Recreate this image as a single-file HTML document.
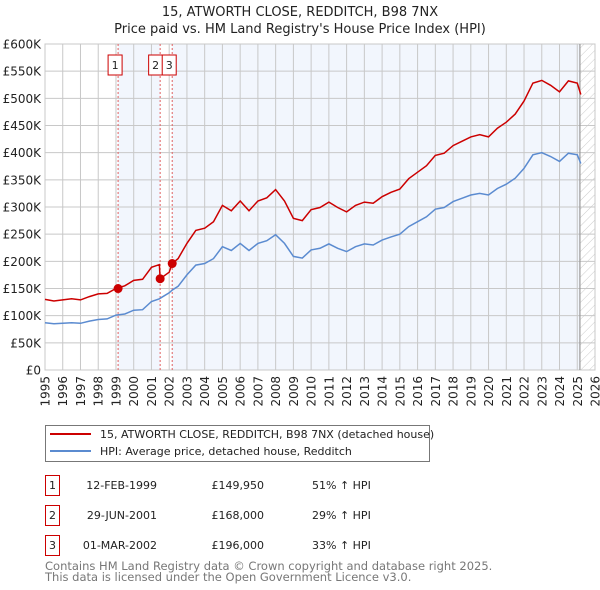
<!DOCTYPE html>
<html><head><meta charset="utf-8"><style>
body{margin:0;background:#fff}
svg{display:block;font-family:"DejaVu Sans","Liberation Sans",sans-serif}
</style></head><body>
<svg id="chart" width="600" height="590" viewBox="0 0 600 590">
<text x="300" y="16" text-anchor="middle" font-size="13" fill="#222">15, ATWORTH CLOSE, REDDITCH, B98 7NX</text>
<text x="300" y="33" text-anchor="middle" font-size="13" fill="#222">Price paid vs. HM Land Registry's House Price Index (HPI)</text>
<g id="plot"></g>
<g>
<rect x="45.5" y="425.5" width="384" height="36" fill="#fff" stroke="#777"/>
<line x1="50" y1="434" x2="91" y2="434" stroke="#cc0000" stroke-width="2"/>
<text x="100" y="438" font-size="11" fill="#222">15, ATWORTH CLOSE, REDDITCH, B98 7NX (detached house)</text>
<line x1="50" y1="451" x2="91" y2="451" stroke="#5b8bd0" stroke-width="2"/>
<text x="100" y="455" font-size="11" fill="#222">HPI: Average price, detached house, Redditch</text>
</g>
<g id="table" font-size="11" fill="#222"></g>
<text x="45" y="570" font-size="11.5" fill="#777">Contains HM Land Registry data © Crown copyright and database right 2025.</text>
<text x="45" y="581" font-size="11.5" fill="#777">This data is licensed under the Open Government Licence v3.0.</text>
</svg>
<script>
const years=[1995,1995.5,1996,1996.5,1997,1997.5,1998,1998.5,1999,1999.5,2000,2000.5,2001,2001.45,2001.49,2002,2002.17,2002.5,2003,2003.5,2004,2004.5,2005,2005.5,2006,2006.5,2007,2007.5,2008,2008.5,2009,2009.5,2010,2010.5,2011,2011.5,2012,2012.5,2013,2013.5,2014,2014.5,2015,2015.5,2016,2016.5,2017,2017.5,2018,2018.5,2019,2019.5,2020,2020.5,2021,2021.5,2022,2022.5,2023,2023.5,2024,2024.5,2025,2025.2];
const hpiValues=[87,85,86,87,86,90,93,94,101,103,110,111,126,131,132,142,147,154,175,193,196,205,227,220,233,220,233,238,249,233,209,206,221,224,232,224,218,227,232,230,239,245,250,264,273,282,296,299,310,316,322,325,322,334,342,353,371,396,400,393,384,399,396,380];
const priceValues=[130,127,129,131,129,135,140,141,150,155,165,167,189,194,168,180,196,205,233,257,261,273,303,293,311,293,311,317,332,311,279,275,295,299,309,299,291,303,309,307,319,327,333,352,364,376,395,399,413,421,429,433,429,445,456,471,495,528,533,524,512,532,528,507];
const saleYears=[1999.12,2001.49,2002.17];
const salePrices=[149.95,168,196];
const saleDates=["12-FEB-1999","29-JUN-2001","01-MAR-2002"];
const saleLabels=["£149,950","£168,000","£196,000"];
const salePct=["51% ↑ HPI","29% ↑ HPI","33% ↑ HPI"];
const yTicks=[0,50,100,150,200,250,300,350,400,450,500,550,600];
const yTickLabels=["£0","£50K","£100K","£150K","£200K","£250K","£300K","£350K","£400K","£450K","£500K","£550K","£600K"];
const xTicks=[1995,1996,1997,1998,1999,2000,2001,2002,2003,2004,2005,2006,2007,2008,2009,2010,2011,2012,2013,2014,2015,2016,2017,2018,2019,2020,2021,2022,2023,2024,2025,2026];
const dataEnd=2025.15;

const NS="http://www.w3.org/2000/svg";
const X0=45,X1=595,Y0=370,Y1=44;
const xs=y=>X0+(y-1995)/(2026-1995)*(X1-X0);
const ys=v=>Y0-v/600*(Y0-Y1);
const plot=document.getElementById('plot');
function mk(tag,attrs,parent){const e=document.createElementNS(NS,tag);for(const k in attrs)e.setAttribute(k,attrs[k]);(parent||plot).appendChild(e);return e;}
let sh=mk('rect',{x:xs(saleYears[0]),y:Y1,width:xs(saleYears[1])-xs(saleYears[0]),height:Y0-Y1,fill:'#f2f6fd'});


sh=mk('rect',{x:xs(saleYears[2]),y:Y1,width:xs(dataEnd)-xs(saleYears[2]),height:Y0-Y1,fill:'#f2f6fd'});


const defs=mk('defs',{});
const pat=mk('pattern',{id:'hatch',width:6,height:6,patternUnits:'userSpaceOnUse',patternTransform:'rotate(45)'},defs);
mk('line',{x1:0,y1:0,x2:0,y2:6,stroke:'#ccc','stroke-width':1},pat);
const hz=mk('rect',{x:xs(dataEnd),y:Y1,width:X1-xs(dataEnd),height:Y0-Y1,fill:'url(#hatch)'});


yTicks.forEach((t,i)=>{
 const l=mk('line',{x1:X0,x2:X1,y1:ys(t),y2:ys(t),stroke:'#c8c8c8'});
 
 
 const tx=mk('text',{x:41,y:ys(t)+4.5,'text-anchor':'end','font-size':12,fill:'#222'});
 tx.textContent=yTickLabels[i];
 
 
});
xTicks.forEach(t=>{
 const l=mk('line',{x1:xs(t),x2:xs(t),y1:Y1,y2:Y0,stroke:'#c8c8c8'});
 
 
 const tx=mk('text',{x:0,y:0,'text-anchor':'end','font-size':12,fill:'#222',transform:`translate(${xs(t)+4.5},376) rotate(-90)`});
 tx.textContent=t;
 
 
});
mk('rect',{x:X0,y:Y1,width:X1-X0,height:Y0-Y1,fill:'none',stroke:'#c8c8c8'});
const el=mk('line',{x1:xs(dataEnd),x2:xs(dataEnd),y1:Y1,y2:Y0,stroke:'#999','stroke-width':1.2});


saleYears.forEach((s,i)=>{
 const l=mk('line',{x1:xs(s),x2:xs(s),y1:Y1,y2:Y0,stroke:'#e06060','stroke-dasharray':'2,2'});
 
 
});
function path(vals){return vals.map((v,i)=>(i?'L':'M')+xs(years[i]).toFixed(1)+','+ys(v).toFixed(1)).join('');}
const hp=mk('path',{d:path(hpiValues),fill:'none',stroke:'#5b8bd0','stroke-width':1.5});


const pp=mk('path',{d:path(priceValues),fill:'none',stroke:'#cc0000','stroke-width':1.5});


saleYears.forEach((s,i)=>{
 const c=mk('circle',{cx:xs(s),cy:ys(salePrices[i]),r:4.5,fill:'#cc0000'});
 
 
});
const boxOff=[-3,-4.5,-3];
saleYears.forEach((s,i)=>{
 const g=mk('g',{});
 
 
 const cx=xs(s)+boxOff[i];
 mk('rect',{x:cx-7,y:55,width:14,height:20,fill:'#fff',stroke:'#cc0000'},g);
 const t=mk('text',{x:cx,y:69,'text-anchor':'middle','font-size':11,fill:'#222'},g);
 t.textContent=i+1;
});
const tb=document.getElementById('table');
saleYears.forEach((s,i)=>{
 const y0=475+i*30;
 const g=mk('g',{},tb);
 
 
 mk('rect',{x:45.5,y:y0+0.5,width:14,height:20,fill:'#fff',stroke:'#cc0000'},g);
 let t=mk('text',{x:52.5,y:y0+14,'text-anchor':'middle'},g);t.textContent=i+1;
 t=mk('text',{x:157,y:y0+14,'text-anchor':'end'},g);t.textContent=saleDates[i];
 t=mk('text',{x:264,y:y0+14,'text-anchor':'end'},g);t.textContent=saleLabels[i];
 t=mk('text',{x:312,y:y0+14},g);t.textContent=salePct[i];
});
</script>
</body></html>
